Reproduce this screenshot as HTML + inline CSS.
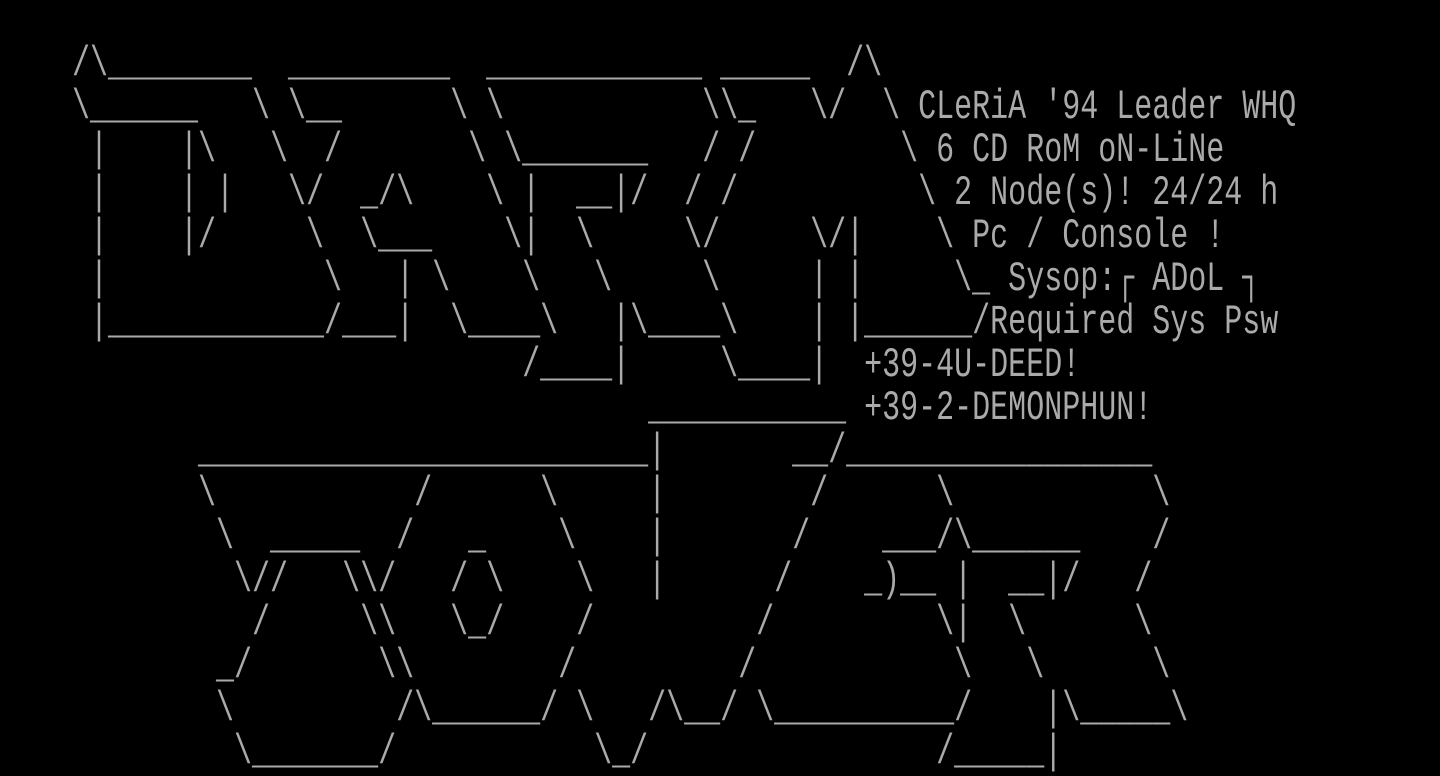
<!DOCTYPE html>
<html><head><meta charset="utf-8"><style>
html,body{margin:0;padding:0;background:#000;width:1440px;height:776px;overflow:hidden}
pre{margin:0;position:absolute;left:0;top:0;font-family:"Liberation Mono","DejaVu Sans Mono",monospace;font-size:42px;line-height:43px;color:#aaa;transform:scaleX(0.7143);transform-origin:0 0;white-space:pre}
</style></head><body><pre>

    /\________  _________  ____________ _____  /\
    \______   \ \__      \ \           \\_   \/  \ CLeRiA '94 Leader WHQ
     |    |\   \  /       \ \_______   / /        \ 6 CD RoM oN-LiNe
     |    | |   \/  _/\    \ |  __|/  / /          \ 2 Node(s)! 24/24 h
     |    |/     \  \___    \|  \     \/     \/|    \ Pc / Console !
     |            \   | \    \   \     \     | |     \_ Sysop:┌ ADoL ┐
     |____________/___|  \____\   |\____\    | |______/Required Sys Psw
                             /____|     \____|  +39-4U-DEED!
                                    ___________ +39-2-DEMONPHUN!
           _________________________|       __/_________________
           \           /      \     |        /      \           \
            \  _____  /   _    \    |       /    ___/\______    /
             \//   \\/   / \    \   |      /    _)__ |  __|/   /
              /     \\   \_/    /         /         \|  \      \
            _/       \\        /         /           \   \      \
            \         /\______/ \   /\__/ \__________/    |\_____\
             \_______/           \_/                /_____|
</pre></body></html>
